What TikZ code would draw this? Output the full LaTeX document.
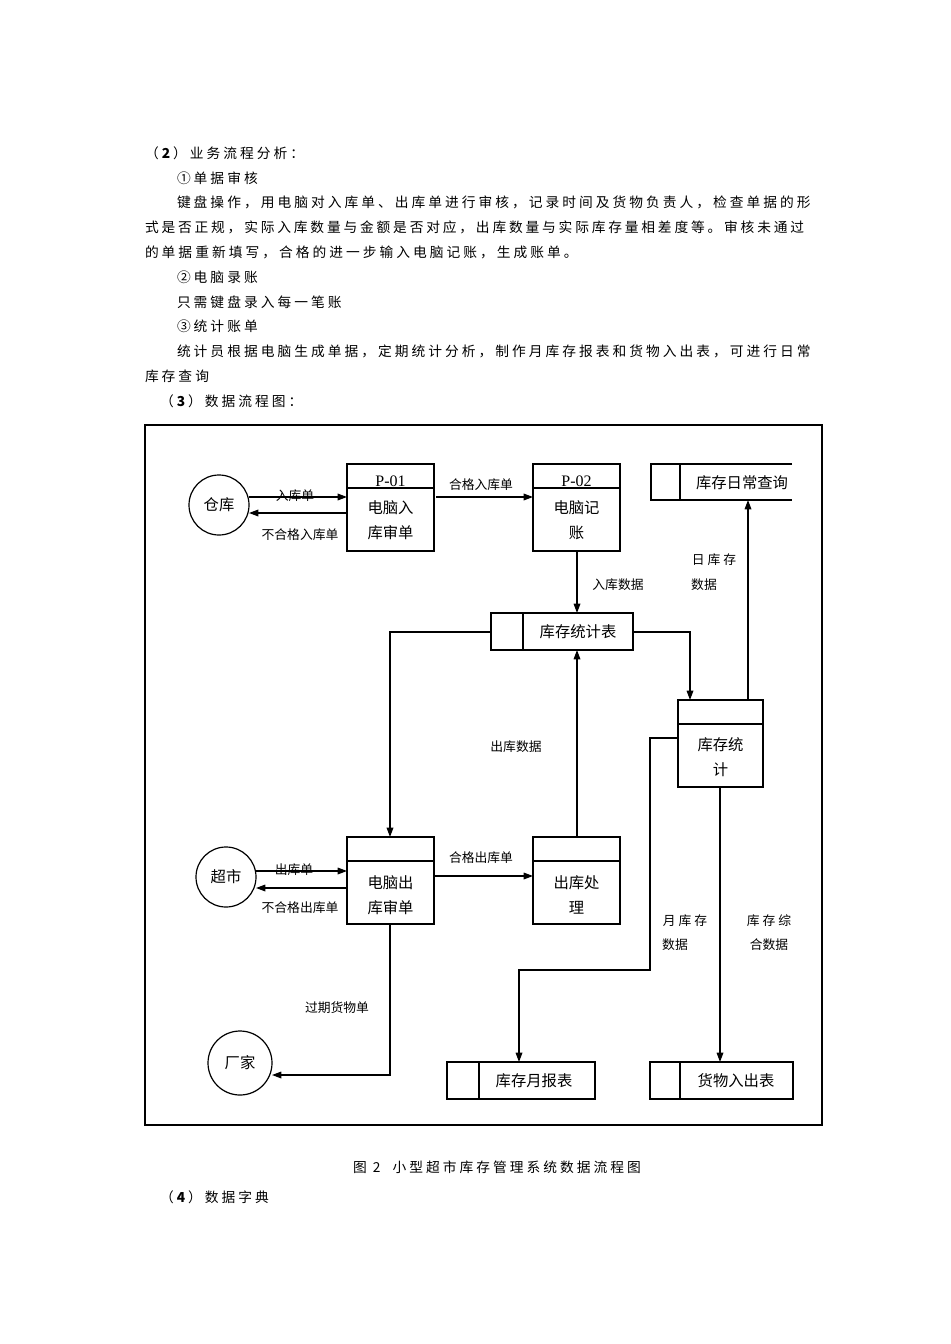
\documentclass[tikz,border=0pt]{standalone}
\usepackage{fontspec}
\setmainfont{Liberation Serif}
\newfontfamily\cjk[LetterSpace=22]{Noto Sans CJK SC}
\newfontfamily\cjkb{Noto Sans CJK SC}
\usetikzlibrary{arrows.meta}
\begin{document}
\begin{tikzpicture}[x=0.75pt,y=-0.75pt,
  every node/.style={inner sep=0pt,outer sep=0pt},
  body/.style={anchor=west,font=\fontsize{10.3pt}{12pt}\cjk},
  lab/.style={font=\fontsize{9.6pt}{11pt}\cjkb},
  btxt/.style={font=\fontsize{11.5pt}{14pt}\cjkb},
  ln/.style={line width=0.9pt},
  arr/.style={ln,-{Triangle[length=7pt,width=5pt]}}]
\useasboundingbox (0,0) rectangle (950,1344);
% page text
\node[body] (t1) at (145,153) {（\textbf{2}）业务流程分析：};
\node[body] (t2) at (177,178) {①单据审核};
\node[body] (t3) at (177,202) {键盘操作，用电脑对入库单、出库单进行审核，记录时间及货物负责人，检查单据的形};
\node[body,font=\fontsize{10.3pt}{12pt}\cjkb\addfontfeature{LetterSpace=20.5}] (t4) at (145,227) {式是否正规，实际入库数量与金额是否对应，出库数量与实际库存量相差度等。审核未通过};
\node[body] (t5) at (145,252) {的单据重新填写，合格的进一步输入电脑记账，生成账单。};
\node[body] (t6) at (177,277) {②电脑录账};
\node[body] (t7) at (177,302) {只需键盘录入每一笔账};
\node[body] (t8) at (177,326) {③统计账单};
\node[body] (t9) at (177,351) {统计员根据电脑生成单据，定期统计分析，制作月库存报表和货物入出表，可进行日常};
\node[body] (t10) at (145,376) {库存查询};
\node[body] (t11) at (160,401) {（\textbf{3}）数据流程图：};
\node[body] (cap) at (353,1167) {图 2\ \ 小型超市库存管理系统数据流程图};
\node[body] (t12) at (160,1197) {（\textbf{4}）数据字典};
% frame
\draw[line width=0.8pt] (145,425) rectangle (822,1125);
% externals
\node[draw,ln,circle,minimum size=60*0.75pt,btxt] (ck) at (219,505) {仓库};
\node[draw,ln,circle,minimum size=60*0.75pt,btxt] (cs) at (226,877) {超市};
\node[draw,ln,circle,minimum size=64*0.75pt,btxt] (cj) at (240,1063) {厂家};
% processes
\foreach \n/\x/\y in {p1/347/464,p2/533/464,p3/347/837,p4/533/837}{
  \draw[ln] (\x,\y) rectangle ++(87,87);
  \draw[ln] (\x,\y+24) -- ++(87,0);
  \coordinate (\n) at (\x+43.5,\y);
}
\node[draw,ln,minimum width=85*0.75pt,minimum height=87*0.75pt,anchor=north west] (p5) at (678,700) {};
\draw[ln] (678,724) -- (763,724);
\node[font=\fontsize{12pt}{14pt}\selectfont] (p1n) at (390.5,481) {P-01};
\node[font=\fontsize{12pt}{14pt}\selectfont] (p2n) at (576.5,481) {P-02};
\node[btxt] (p1a) at (390.5,508) {电脑入};
\node[btxt] (p1b) at (390.5,533) {库审单};
\node[btxt] (p2a) at (576.5,508) {电脑记};
\node[btxt] (p2b) at (576.5,533) {账};
\node[btxt] (p3a) at (390.5,883) {电脑出};
\node[btxt] (p3b) at (390.5,908) {库审单};
\node[btxt] (p4a) at (576.5,883) {出库处};
\node[btxt] (p4b) at (576.5,908) {理};
\node[btxt] (p5a) at (720.5,745) {库存统};
\node[btxt] (p5b) at (720.5,770) {计};
% stores
\draw[ln] (792,464) -- (651,464) -- (651,500) -- (792,500); \draw[ln] (680,464) -- (680,500);
\node[btxt] (s1) at (742,483) {库存日常查询};
\draw[ln] (491,613) rectangle (633,650); \draw[ln] (523,613) -- (523,650);
\node[btxt] (s2) at (578,632) {库存统计表};
\draw[ln] (447,1062) rectangle (595,1099); \draw[ln] (479,1062) -- (479,1099);
\node[btxt] (s3) at (534,1081) {库存月报表};
\draw[ln] (650,1062) rectangle (793,1099); \draw[ln] (680,1062) -- (680,1099);
\node[btxt] (s4) at (736,1081) {货物入出表};
% connectors
\draw[arr] (249,497) -- (347,497);
\draw[arr] (347,513) -- (249,513);
\draw[arr] (436,497) -- (533,497);
\draw[arr] (577,551) -- (577,613);
\draw[arr] (491,632) -- (390,632) -- (390,837);
\draw[arr] (633,632) -- (690,632) -- (690,700);
\draw[arr] (748,700) -- (748,500);
\draw[arr] (256,871) -- (347,871);
\draw[arr] (347,888) -- (256,888);
\draw[arr] (434,876) -- (533,876);
\draw[arr] (577,837) -- (577,650);
\draw[arr] (390,925) -- (390,1075) -- (272,1075);
\draw[arr] (678,738) -- (650,738) -- (650,970) -- (519,970) -- (519,1062);
\draw[arr] (720,787) -- (720,1062);
% labels
\node[lab] (l1) at (295,496) {入库单};
\node[lab] (l2) at (300,535) {不合格入库单};
\node[lab] (l3) at (481,485) {合格入库单};
\node[lab] (l4) at (618,585) {入库数据};
\node[lab] (l5) at (714,560) {日 库 存};
\node[lab] (l6) at (704,585) {数据};
\node[lab] (l7) at (516,747) {出库数据};
\node[lab] (l8) at (294,870) {出库单};
\node[lab] (l9) at (300,908) {不合格出库单};
\node[lab] (l10) at (481,858) {合格出库单};
\node[lab] (l11) at (337,1008) {过期货物单};
\node[lab] (l12) at (685,921) {月 库 存};
\node[lab] (l13) at (675,945) {数据};
\node[lab] (l14) at (769,921) {库 存 综};
\node[lab] (l15) at (769,945) {合数据};
\end{tikzpicture}
\end{document}
